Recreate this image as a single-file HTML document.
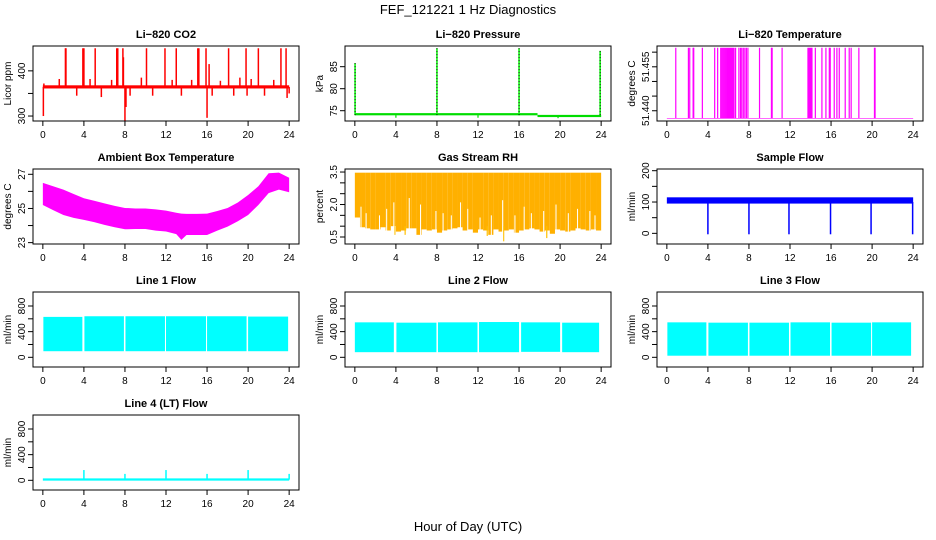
<!DOCTYPE html>
<html><head><meta charset="utf-8">
<style>
html,body{margin:0;padding:0;background:#fff;}
svg{display:block;font-family:"Liberation Sans",sans-serif;}
</style></head>
<body>
<svg id="chart" width="936" height="540" viewBox="0 0 936 540">
<rect width="936" height="540" fill="#fff"/>
<text x="468" y="14" text-anchor="middle" font-size="13">FEF_121221  1 Hz Diagnostics</text>
<text x="468" y="531" text-anchor="middle" font-size="13">Hour of Day (UTC)</text>
</svg>
<script>
// ---- data ----
const xTicks = [0,4,8,12,16,20,24];
const co2Base = [361, 368];
const co2SpikeT = [0.05,0.1,1.6,2.2,2.25,3.3,3.9,4.0,4.6,5.1,5.7,6.7,7.2,7.3,7.8,7.85,8.0,8.1,8.5,9.6,10.1,10.7,11.9,12.6,13.0,13.5,14.5,15.1,15.2,15.9,16.0,16.2,16.5,17.3,18.1,18.6,19.2,19.8,19.9,20.3,21.0,21.6,22.5,23.2,23.7,23.8,24.0];
const co2SpikeV = [300,372,382,450,450,345,450,450,382,450,342,380,450,450,450,430,290,320,345,385,450,345,450,380,450,345,380,450,450,450,296,415,345,378,450,345,385,450,345,382,450,345,380,450,450,340,350];
const presBaseT = [0,17.8,24];
const presBaseV = [74.2,73.8];
const presSpikeT = [0.02,8.0,16.0,23.9];
const presSpikeV = [85.8,89.2,89.2,88.6];
const presDipT = [4,12,19.8];
const presDipV = [73.4,73.4,73.3];
const tempBase = 51.4374;
const tempSpikeV = 51.4615;
const tempSpikeT = [0.87,2.1,2.23,2.56,2.62,3.46,4.66,4.95,5.25,5.35,5.45,5.55,5.65,5.75,5.85,5.95,6.05,6.15,6.25,6.35,6.45,6.55,6.7,7.02,7.18,7.3,7.45,7.6,7.75,7.9,9.03,10.19,10.26,11.23,13.75,13.85,13.95,14.05,14.14,14.47,15.11,15.5,15.83,15.92,16.31,16.57,16.8,17.38,17.77,17.96,18.71,20.23,20.29];
const ambT  = [0,1,2,3,4,5,6,7,8,9,10,11,12,13,13.5,14,15,16,17,18,19,20,21,22,23,24];
const ambHi = [26.5,26.3,26.1,25.85,25.6,25.45,25.3,25.15,25.03,25.0,25.0,24.95,24.87,24.75,24.7,24.68,24.68,24.7,24.85,25.03,25.35,25.79,26.3,27.06,27.1,26.8];
const ambLo = [25.2,24.9,24.62,24.45,24.33,24.2,24.04,23.9,23.78,23.8,23.8,23.7,23.65,23.5,23.16,23.45,23.45,23.45,23.7,23.94,24.25,24.62,25.2,25.9,26.1,25.95];
const rhHi = 3.47;
const rhLo = [1.4,0.95,0.9,0.85,0.85,0.95,0.8,1.0,0.75,0.8,0.9,0.9,0.6,0.85,0.8,0.85,0.7,0.8,0.85,0.9,0.95,0.8,0.85,0.7,0.85,0.8,0.6,0.85,0.75,0.8,0.85,0.7,0.8,0.85,0.9,0.85,0.75,0.8,0.65,0.85,0.8,0.75,0.8,0.9,0.85,0.8,0.85,0.8];
const rhDipT = [3.9,4.9,12.9,14.5,18.7];
const rhDipV = [0.6,0.6,0.55,0.3,0.45];
const rhGapT = [0.6,1.1,2.4,3.1,3.8,5.3,6.4,7.9,8.6,9.4,10.3,11.0,12.2,13.3,14.4,15.6,16.5,17.2,18.4,19.6,20.8,21.7,22.9,23.4];
const rhGapV = [1.9,1.6,1.5,1.8,2.1,2.3,2.0,1.7,1.6,1.5,2.1,1.8,1.4,1.5,2.2,1.5,1.9,1.6,1.7,2.0,1.6,1.8,1.7,1.5];
const sfBand = [95,115];
const sfDropT = [4.0,8.0,11.9,15.95,19.9,23.95];
const sfDropV = [-3,-3,-3,-3,-3,-3];
const lf1Start = [0.05,4.05,8.05,12.0,16.0,20.0];
const lf1End   = [3.85,7.9,11.9,15.9,19.85,23.9];
const lf1Hi    = [630,640,640,640,640,635];
const lf1Lo    = [95,95,95,95,95,95];
const lf2Start = [0.0,4.05,8.1,12.1,16.2,20.2];
const lf2End   = [3.8,7.95,11.95,16.0,20.0,23.8];
const lf2Hi    = [545,540,545,550,545,540];
const lf2Lo    = [80,80,80,80,85,80];
const lf3Start = [0.05,4.05,8.05,12.05,16.05,20.0];
const lf3End   = [3.85,7.9,11.9,15.9,19.9,23.8];
const lf3Hi    = [545,540,540,545,540,545];
const lf3Lo    = [25,25,25,25,25,25];
const lf4Base  = [-5,30];
const lf4SpikeT = [4.0,8.0,12.0,16.0,20.0,24.0];
const lf4SpikeV = [160,100,160,100,160,100];

// ---- layout ----
const NS = "http://www.w3.org/2000/svg";
const svg = document.getElementById('chart');
const colX = [33,345,657], rowY = [46,169,292,415], PW = 266, PH = 75;
const XL = [-0.96,24.96];
function mk(tag, attrs, parent){
  const e = document.createElementNS(NS, tag);
  for (const k in attrs) e.setAttribute(k, attrs[k]);
  (parent||svg).appendChild(e);
  return e;
}
function panel(c, r, title, ylab, ylim, ticks, labels, key){
  const L = colX[c], T = rowY[r];
  const g = mk('g', {});
  
  
  const x = v => L + (v - XL[0]) / (XL[1] - XL[0]) * PW;
  const y = v => T + PH - (v - ylim[0]) / (ylim[1] - ylim[0]) * PH;
  const clip = mk('clipPath', {id: 'clip-' + key}, g);
  mk('rect', {x: L, y: T, width: PW, height: PH}, clip);
  const plot = mk('g', {'clip-path': 'url(#clip-' + key + ')'}, g);
  
  
  const t = mk('text', {x: L + PW/2, y: T - 8, 'text-anchor': 'middle', 'font-size': 11, 'font-weight': 'bold'}, g);
  t.textContent = title;
  
  
  const yl = mk('text', {x: 0, y: 0, 'text-anchor': 'middle', 'font-size': 10, transform: 'translate(' + (L - 22) + ',' + (T + PH/2) + ') rotate(-90)'}, g);
  yl.textContent = ylab;
  
  
  xTicks.forEach(v => {
    const tk = mk('line', {x1: x(v), x2: x(v), y1: T + PH, y2: T + PH + 5, stroke: '#000'}, g);
    
    
    const tl = mk('text', {x: x(v), y: T + PH + 17, 'text-anchor': 'middle', 'font-size': 10}, g);
    tl.textContent = v;
    
    
  });
  ticks.forEach((v, i) => {
    const tk = mk('line', {x1: L - 5, x2: L, y1: y(v), y2: y(v), stroke: '#000'}, g);
    
    
    if (labels[i] !== '') {
      const tl = mk('text', {x: 0, y: 0, 'text-anchor': 'middle', 'font-size': 10, transform: 'translate(' + (L - 8) + ',' + y(v) + ') rotate(-90)'}, g);
      tl.textContent = labels[i];
      
      
    }
  });
  return {g, plot, x, y, L, T, frame(){
    const b = mk('rect', {x: L, y: T, width: PW, height: PH, fill: 'none', stroke: '#000'}, g);
    
    
  }};
}
function vline(p, t, v0, v1, color, w, name){
  const e = mk('line', {x1: p.x(t), x2: p.x(t), y1: p.y(v0), y2: p.y(v1), stroke: color, 'stroke-width': w}, p.plot);
  
  
  return e;
}
function band(p, t0, t1, lo, hi, color, name){
  const e = mk('rect', {x: p.x(t0), y: p.y(hi), width: p.x(t1) - p.x(t0), height: p.y(lo) - p.y(hi), fill: color}, p.plot);
  
  
  return e;
}

// CO2
let p = panel(0,0,'Li\u2212820 CO2','Licor ppm',[289,455],[300,350,400],['300','','400'],'co2');
band(p, 0, 24, co2Base[0], co2Base[1], '#ff0000', 'co2-baseline-band');
co2SpikeT.forEach((t,i) => vline(p, t, (co2Base[0]+co2Base[1])/2, co2SpikeV[i], '#ff0000', 1.5, 'co2-spike'));
p.frame();

// Pressure
p = panel(1,0,'Li\u2212820 Pressure','kPa',[72.66,89.7],[75,80,85],['75','80','85'],'pressure');
for (let i=0;i<presBaseV.length;i++){
  band(p, presBaseT[i], presBaseT[i+1], presBaseV[i]-0.25, presBaseV[i]+0.25, '#00dd00', 'pressure-baseline');
}
presDipT.forEach((t,i) => vline(p, t, 74.0, presDipV[i], '#00dd00', 1.2, 'pressure-dip'));
presSpikeT.forEach((t,i) => {
  vline(p, t, 74.0, presSpikeV[i], '#00ff00', 1.5, 'pressure-spike');
  const d = vline(p, t, 74.0, presSpikeV[i], '#000', 1, 'pressure-spike-points');
  d.setAttribute('stroke-dasharray', '1,2');
});
p.frame();

// Li-820 Temperature
p = panel(2,0,'Li\u2212820 Temperature','degrees C',[51.4365,51.4621],[51.440,51.445,51.450,51.455,51.460],['51.440','','','51.455',''],'li820-temp');
band(p, 0, 24, tempBase-0.0001, tempBase+0.0001, '#ff00ff', 'temp-baseline');
tempSpikeT.forEach(t => vline(p, t, tempBase, tempSpikeV, '#ff00ff', 1.2, 'temp-spike'));
p.frame();

// Ambient Box Temperature
p = panel(0,1,'Ambient Box Temperature','degrees C',[22.92,27.31],[23,24,25,26,27],['23','','25','','27'],'ambient');
{
  let pts = ambT.map((t,i) => p.x(t)+','+p.y(ambHi[i]));
  for (let i=ambT.length-1;i>=0;i--) pts.push(p.x(ambT[i])+','+p.y(ambLo[i]));
  const e = mk('polygon', {points: pts.join(' '), fill: '#ff00ff'}, p.plot);
  
  
}
p.frame();

// Gas Stream RH
p = panel(1,1,'Gas Stream RH','percent',[0.177,3.64],[0.5,1.0,1.5,2.0,2.5,3.0,3.5],['0.5','','','2.0','','','3.5'],'rh');
rhLo.forEach((v,i) => band(p, i*0.5, i*0.5+0.5, v, rhHi, '#ffb000', 'rh-band'));
rhDipT.forEach((t,i) => vline(p, t, 1.0, rhDipV[i], '#ffc000', 1.2, 'rh-dip'));
rhGapT.forEach((t,i) => vline(p, t, 0.2, rhGapV[i], '#ffffff', 1, 'rh-gap'));
p.frame();

// Sample Flow
p = panel(2,1,'Sample Flow','ml/min',[-34,205.4],[0,50,100,150,200],['0','','100','','200'],'sample-flow');
band(p, 0, 24, sfBand[0], sfBand[1], '#0000ff', 'sample-flow-band');
sfDropT.forEach((t,i) => vline(p, t, 100, sfDropV[i], '#0000ff', 1.5, 'sample-flow-drop'));
p.frame();

// Line flows
function flowPanel(c, r, title, key, st, en, hi, lo){
  const q = panel(c, r, title, 'ml/min', [-151,1018], [0,200,400,600,800], ['0','','400','','800'], key);
  st.forEach((s,i) => band(q, s, en[i], lo[i], hi[i], '#00ffff', key + '-segment'));
  q.frame();
  return q;
}
flowPanel(0,2,'Line 1 Flow','line1-flow',lf1Start,lf1End,lf1Hi,lf1Lo);
flowPanel(1,2,'Line 2 Flow','line2-flow',lf2Start,lf2End,lf2Hi,lf2Lo);
flowPanel(2,2,'Line 3 Flow','line3-flow',lf3Start,lf3End,lf3Hi,lf3Lo);
p = flowPanel(0,3,'Line 4 (LT) Flow','line4-flow',[],[],[],[]);
band(p, 0, 24, lf4Base[0], lf4Base[1], '#00ffff', 'line4-baseline');
lf4SpikeT.forEach((t,i) => vline(p, t, 10, lf4SpikeV[i], '#00ffff', 1.5, 'line4-spike'));
</script>
</body></html>
